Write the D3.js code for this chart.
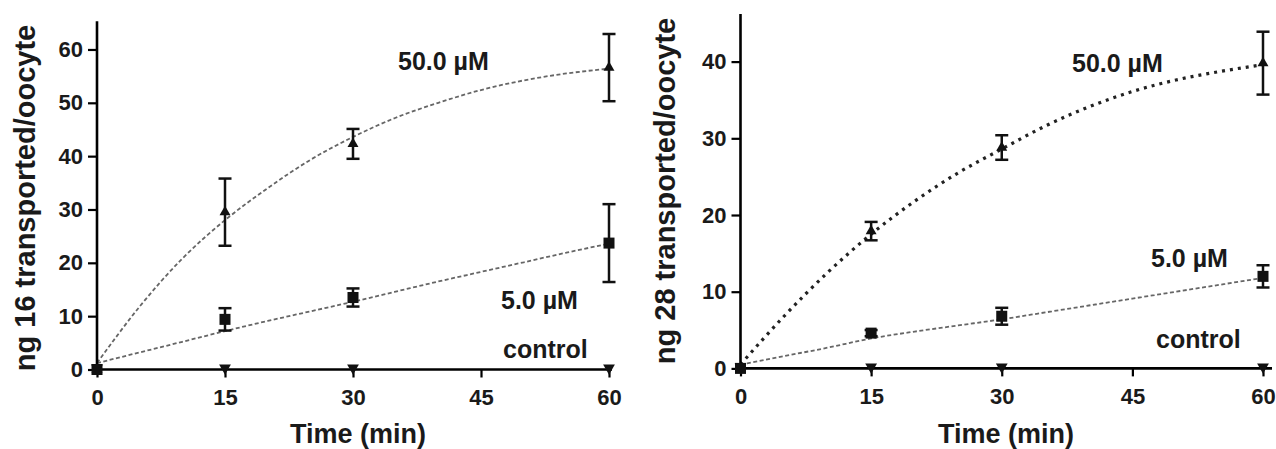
<!DOCTYPE html>
<html>
<head>
<meta charset="utf-8">
<script src="https://cdn.jsdelivr.net/npm/d3@7"></script>
<style>
  html, body { margin: 0; padding: 0; background: #fff; }
  svg { display: block; }
  text { font-family: "Liberation Sans", Arial, sans-serif; font-weight: bold; fill: #1a1a1a; }
</style>
</head>
<body>
<svg id="chart" width="1276" height="449"></svg>
<script>
// ---------- DATA ----------
const xTicks = [0, 15, 30, 45, 60];
const leftYTicks = [0, 10, 20, 30, 40, 50, 60];
const rightYTicks = [0, 10, 20, 30, 40];
const times = [0, 15, 30, 60];

// left panel (ng 16)
const left50 = [0, 29.5, 42.3, 56.6];
const left50Err = [0, 6.3, 2.8, 6.3];
const left5 = [0, 9.4, 13.5, 23.7];
const left5Err = [0, 2.1, 1.7, 7.3];
const leftControl = [0, 0, 0, 0];

// right panel (ng 28)
const right50 = [0, 17.9, 28.8, 39.8];
const right50Err = [0, 1.2, 1.6, 4.1];
const right5 = [0, 4.6, 6.8, 12.0];
const right5Err = [0, 0.4, 1.1, 1.45];
const rightControl = [0, 0, 0, 0];

// fitted curves
const fitTimes = [0, 5, 10, 15, 20, 25, 30, 35, 40, 45, 50, 55, 60];
const leftFit50 = [1.2, 11.8, 20.8, 28, 34, 39.3, 43.6, 47.2, 50, 52.4, 54.2, 55.5, 56.4];
const leftFit5 = [1.2, 3.2, 5.2, 7.2, 9.1, 10.9, 12.7, 14.6, 16.5, 18.3, 20.1, 21.9, 23.6];
const rightFit50 = [0.5, 6.8, 12.5, 17.5, 21.8, 25.5, 28.6, 31.6, 34.1, 36.1, 37.6, 38.7, 39.6];
const rightFit5 = [0.5, 1.6, 2.7, 3.9, 4.8, 5.6, 6.4, 7.3, 8.2, 9.1, 10.0, 10.9, 11.8];

const seriesLabels = ["50.0 \u00B5M", "5.0 \u00B5M", "control"];
const xTitle = "Time (min)";
const leftYTitle = "ng 16 transported/oocyte";
const rightYTitle = "ng 28 transported/oocyte";

// ---------- LAYOUT ----------
const svg = d3.select("#chart");

const panels = [
  {
    xRange: [97, 609], yDomain: [0, 65], yRange: [369.5, 22.8], axisEnd: 612,
    yTicks: leftYTicks, s50: left50, e50: left50Err, s5: left5, e5: left5Err, ctrl: leftControl,
    fit50: leftFit50, fit5: leftFit5, fit50Style: "gray",
    yTitle: leftYTitle, yTitleX: 35, yTitleY: 198, xTitleX: 358,
    labelPos: [[398, 70], [501, 309], [503, 358]]
  },
  {
    xRange: [740.5, 1263], yDomain: [0, 46], yRange: [368.4, 15.6], axisEnd: 1272,
    yTicks: rightYTicks, s50: right50, e50: right50Err, s5: right5, e5: right5Err, ctrl: rightControl,
    fit50: rightFit50, fit5: rightFit5, fit50Style: "dots",
    yTitle: rightYTitle, yTitleX: 675, yTitleY: 191, xTitleX: 1006,
    labelPos: [[1072, 72], [1151, 267], [1156, 348]]
  }
];

panels.forEach(p => {
  const x = d3.scaleLinear().domain([0, 60]).range(p.xRange);
  const y = d3.scaleLinear().domain(p.yDomain).range(p.yRange);
  const g = svg.append("g");
  const y0 = y(0);
  const x0 = x(0);

  // fitted curves
  const line = d3.line().x((d, i) => x(fitTimes[i])).y(d => y(d)).curve(d3.curveMonotoneX);
  g.append("path").datum(p.fit5).attr("d", line)
    .attr("fill", "none").attr("stroke", "#666").attr("stroke-width", 1.8)
    .attr("stroke-dasharray", "4,2.5");
  if (p.fit50Style === "dots") {
    g.append("path").datum(p.fit50).attr("d", line)
      .attr("fill", "none").attr("stroke", "#222").attr("stroke-width", 3.2)
      .attr("stroke-dasharray", "3,5");
  } else {
    g.append("path").datum(p.fit50).attr("d", line)
      .attr("fill", "none").attr("stroke", "#666").attr("stroke-width", 1.8)
      .attr("stroke-dasharray", "4,2.5");
  }

  // axes
  const yAxis = d3.axisLeft(y).tickValues(p.yTicks).tickSize(9).tickPadding(5).tickSizeOuter(0);
  const gy = g.append("g").attr("transform", `translate(${x0},0)`).call(yAxis);
  gy.select(".domain").remove();
  gy.selectAll(".tick line").attr("stroke", "#000").attr("stroke-width", 2.2);
  gy.selectAll(".tick text").attr("font-size", 22).attr("font-family", null).attr("fill", "#1a1a1a");

  const xAxis = d3.axisBottom(x).tickValues(xTicks).tickSize(8).tickPadding(12).tickSizeOuter(0);
  const gx = g.append("g").attr("transform", `translate(0,${y0})`).call(xAxis);
  gx.select(".domain").remove();
  gx.selectAll(".tick line").attr("stroke", "#000").attr("stroke-width", 2.2);
  gx.selectAll(".tick text").attr("font-size", 22).attr("font-family", null).attr("fill", "#1a1a1a");

  g.append("line").attr("x1", x0).attr("x2", x0).attr("y1", y0 + 1.2).attr("y2", y(p.yDomain[1]) - 1.5)
    .attr("stroke", "#000").attr("stroke-width", 2.6);
  g.append("line").attr("x1", x0 - 1.2).attr("x2", p.axisEnd).attr("y1", y0).attr("y2", y0)
    .attr("stroke", "#000").attr("stroke-width", 2.6);

  // error bars
  const cap = 6.5;
  function errBars(vals, errs) {
    vals.forEach((v, i) => {
      const e = errs[i];
      if (e <= 0) return;
      const cx = x(times[i]);
      g.append("line").attr("x1", cx).attr("x2", cx).attr("y1", y(v - e)).attr("y2", y(v + e))
        .attr("stroke", "#111").attr("stroke-width", 2.5);
      [v - e, v + e].forEach(t => {
        g.append("line").attr("x1", cx - cap).attr("x2", cx + cap).attr("y1", y(t)).attr("y2", y(t))
          .attr("stroke", "#111").attr("stroke-width", 2.5);
      });
    });
  }
  errBars(p.s50, p.e50);
  errBars(p.s5, p.e5);

  // markers
  const triUp = d3.symbol().type(d3.symbolTriangle).size(52);
  const triDown = d3.symbol().type(d3.symbolTriangle).size(60);
  g.selectAll(null).data(p.s50).enter().append("path")
    .attr("d", triUp).attr("fill", "#111")
    .attr("transform", (d, i) => `translate(${x(times[i])},${y(d)})`);
  g.selectAll(null).data(p.s5).enter().append("rect")
    .attr("x", (d, i) => x(times[i]) - 5.5).attr("y", d => y(d) - 5.5)
    .attr("width", 11).attr("height", 11).attr("fill", "#111");
  g.selectAll(null).data(p.ctrl).enter().append("path")
    .attr("d", triDown).attr("fill", "#111")
    .attr("transform", (d, i) => `translate(${x(times[i])},${y(d) - 1.5}) rotate(180)`);

  // series labels
  seriesLabels.forEach((t, i) => {
    g.append("text").attr("x", p.labelPos[i][0]).attr("y", p.labelPos[i][1])
      .attr("font-size", 25).text(t);
  });

  // titles
  g.append("text").attr("x", p.xTitleX).attr("y", 443).attr("text-anchor", "middle")
    .attr("font-size", 27).text(xTitle);
  g.append("text").attr("transform", `translate(${p.yTitleX},${p.yTitleY}) rotate(-90)`)
    .attr("text-anchor", "middle").attr("font-size", 29).text(p.yTitle);
});
</script>
</body>
</html>
